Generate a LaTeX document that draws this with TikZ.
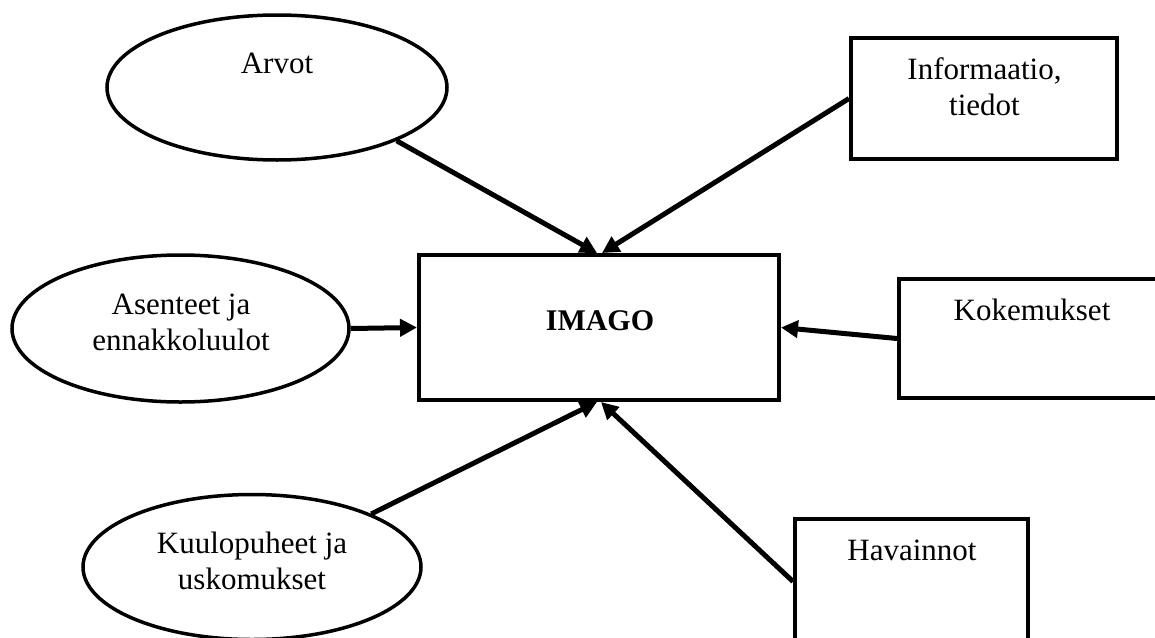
\documentclass[tikz,border=0pt]{standalone}
\usepackage{fontspec}
\setmainfont{Liberation Serif}
\usetikzlibrary{arrows.meta,shapes.geometric,calc}

\tikzset{
  oval/.style={ellipse, draw, line width=3.5pt, inner sep=0pt},
  box/.style={rectangle, draw, line width=4pt, inner sep=0pt},
  lbl/.style={anchor=base, inner sep=0pt, align=center,
              font=\fontsize{31}{36}\selectfont},
  feed/.style={line width=5pt, -{Triangle[length=17pt,width=17pt]}},
}

\begin{document}
\begin{tikzpicture}[x=1pt,y=-1pt]
\useasboundingbox (0,0) rectangle (1155,637);
\clip (0,0) rectangle (1155,637);

% central box
\node[box, minimum width=360pt, minimum height=145pt] (imago) at (599,327.5) {};
\node[lbl, font=\fontsize{30}{36}\selectfont\bfseries] (imagotxt) at (600,330) {IMAGO};

% influences drawn as ellipses (last-line baselines given)
\node[oval, minimum width=340pt, minimum height=145pt] (arvot) at (277,87.5) {};
\node[lbl] (arvottxt) at (277,73) {Arvot};

\node[oval, minimum width=337pt, minimum height=147pt] (asenteet) at (180.5,328.5) {};
\node[lbl] (asenteettxt) at (181,350) {Asenteet ja\\ennakkoluulot};

\node[oval, minimum width=338pt, minimum height=145pt] (kuulo) at (252,567) {};
\node[lbl] (kuulotxt) at (252,589) {Kuulopuheet ja\\uskomukset};

% influences drawn as boxes
\node[box, minimum width=266pt, minimum height=121pt] (info) at (984,98.5) {};
\node[lbl] (infotxt) at (984.5,115) {Informaatio,\\tiedot};

\node[box, minimum width=266pt, minimum height=119pt] (koke) at (1032,338.5) {};
\node[lbl] (koketxt) at (1032,320) {Kokemukset};

\node[box, minimum width=233pt, minimum height=125pt] (hav) at (911.5,581.5) {};
\node[lbl] (havtxt) at (912,560) {Havainnot};

% arrows into IMAGO
\draw[feed] (arvot.-24) -- ($(imago.north)+(-2,0)$);
\draw[feed] (info.west) -- ($(imago.north)+(3,0)$);
\draw[feed] (asenteet.east) -- (imago.west);
\draw[feed] (koke.west) -- (imago.east);
\draw[feed] (kuulo.24) -- ($(imago.south)+(-2,0)$);
\draw[feed] (hav.west) -- ($(imago.south)+(2,0)$);
\end{tikzpicture}
\end{document}
